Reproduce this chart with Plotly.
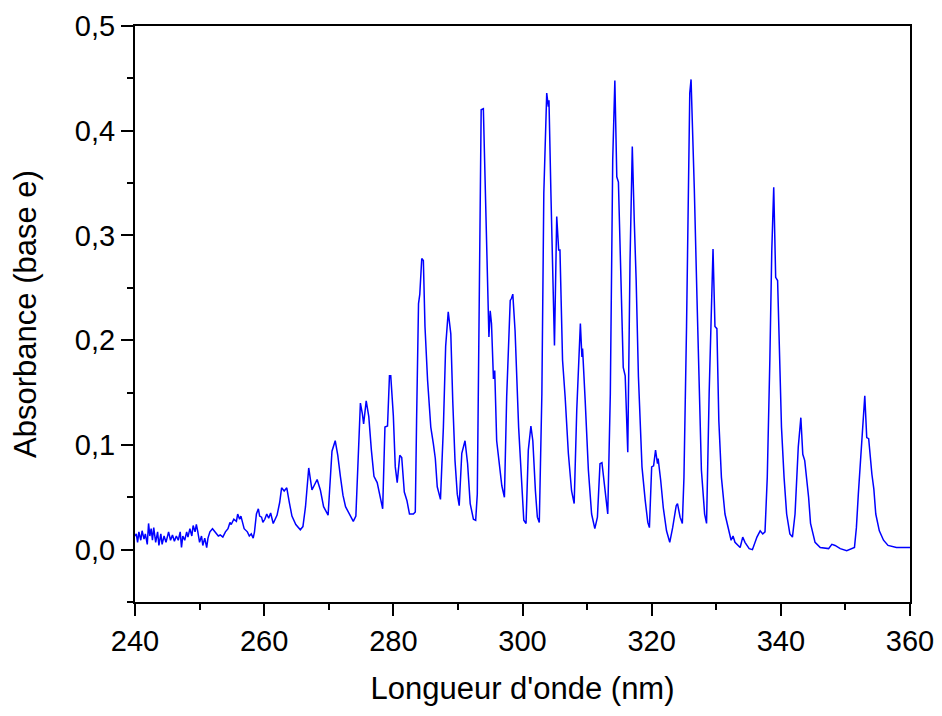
import plotly.graph_objects as go

wavelength_nm = [
    240.0, 240.2, 240.4, 240.6, 240.9, 241.1, 241.4, 241.6, 241.9, 242.1, 242.3, 242.5, 242.7, 242.9,
    243.2, 243.5, 243.7, 244.0, 244.2, 244.5, 244.8, 245.2, 245.5, 245.8, 246.1, 246.4, 246.7, 247.0,
    247.2, 247.4, 247.7, 248.0, 248.2, 248.5, 248.8, 249.0, 249.3, 249.5, 249.7, 250.0, 250.3, 250.5,
    250.8, 251.1, 251.3, 251.6, 252.0, 252.3, 252.6, 252.9, 253.2, 253.6, 254.0, 254.4, 254.7, 254.9,
    255.3, 255.7, 255.9, 256.2, 256.4, 256.7, 256.9, 257.4, 257.7, 258.0, 258.3, 258.5, 258.8, 259.1,
    259.3, 259.6, 259.8, 260.1, 260.4, 260.7, 261.0, 261.4, 261.7, 262.0, 262.4, 262.7, 263.1, 263.5,
    263.9, 264.3, 264.9, 265.6, 266.0, 266.4, 266.9, 267.4, 267.8, 268.2, 268.7, 269.2, 269.9, 270.2,
    270.5, 271.0, 271.4, 271.8, 272.2, 272.6, 273.3, 273.8, 274.2, 274.6, 274.9, 275.2, 275.4, 275.8,
    276.2, 276.6, 277.0, 277.5, 277.9, 278.35, 278.7, 279.1, 279.4, 279.6, 280.0, 280.3, 280.6, 281.0,
    281.3, 281.7, 282.1, 282.5, 283.1, 283.4, 283.6, 283.9, 284.1, 284.4, 284.65, 284.9, 285.3, 285.7,
    285.8, 286.2, 286.5, 286.8, 287.3, 287.75, 288.1, 288.5, 288.8, 288.9, 289.2, 289.55, 289.9, 290.2,
    290.6, 291.1, 291.5, 291.9, 292.4, 292.75, 293.0, 293.3, 293.6, 293.94, 294.35, 294.6, 294.8, 295.0,
    295.2, 295.5, 295.7, 296.0, 296.4, 296.8, 297.2, 297.55, 298.1, 298.3, 298.5, 298.85, 299.4, 299.9,
    300.2, 300.55, 300.9, 301.3, 301.6, 302.0, 302.3, 302.6, 303.0, 303.3, 303.75, 304.0, 304.1, 304.4,
    304.7, 304.95, 305.3, 305.6, 305.8, 306.2, 306.6, 307.1, 307.6, 308.0, 308.4, 308.65, 308.96, 309.2,
    309.3, 309.7, 310.2, 310.7, 311.2, 311.6, 312.0, 312.3, 312.8, 313.2, 313.6, 313.97, 314.3, 314.6,
    314.85, 315.2, 315.6, 315.9, 316.3, 316.65, 317.0, 317.3, 317.6, 317.95, 318.5, 319.0, 319.4, 319.65,
    320.0, 320.3, 320.6, 320.9, 321.0, 321.4, 321.8, 322.3, 322.8, 323.25, 323.8, 324.0, 324.4, 324.75,
    325.0, 325.4, 325.7, 325.9, 326.1, 326.35, 326.6, 327.0, 327.4, 327.7, 328.2, 328.5, 328.9, 329.2,
    329.5, 329.8, 330.1, 330.4, 330.8, 331.35, 331.9, 332.3, 332.6, 332.9, 333.7, 334.1, 334.45, 335.1,
    335.6, 336.3, 336.8, 337.2, 337.55, 337.9, 338.3, 338.6, 338.9, 339.2, 339.5, 339.9, 340.1, 340.5,
    340.9, 341.4, 341.8, 342.2, 342.7, 343.1, 343.4, 343.7, 344.3, 344.6, 345.3, 346.1, 347.4, 347.9,
    348.4, 349.2, 350.2, 351.4, 351.7, 352.0, 352.4, 352.7, 353.0, 353.3, 353.6, 354.1, 354.4, 354.7,
    355.25, 355.9, 356.6, 357.9, 360.0,
]

absorbance = [
    0.013, 0.015, 0.007, 0.017, 0.009, 0.018, 0.010, 0.015, 0.005, 0.025, 0.013, 0.020, 0.009, 0.021,
    0.007, 0.017, 0.004, 0.015, 0.005, 0.013, 0.007, 0.017, 0.009, 0.014, 0.008, 0.013, 0.009, 0.017,
    0.002, 0.013, 0.009, 0.017, 0.012, 0.020, 0.013, 0.023, 0.017, 0.024, 0.018, 0.007, 0.013, 0.004,
    0.011, 0.002, 0.011, 0.017, 0.020, 0.018, 0.015, 0.013, 0.014, 0.012, 0.017, 0.020, 0.026, 0.024,
    0.029, 0.027, 0.034, 0.029, 0.032, 0.025, 0.020, 0.017, 0.013, 0.015, 0.011, 0.017, 0.034, 0.039,
    0.032, 0.031, 0.026, 0.029, 0.034, 0.030, 0.035, 0.025, 0.030, 0.033, 0.045, 0.059, 0.056, 0.059,
    0.045, 0.032, 0.024, 0.019, 0.022, 0.041, 0.078, 0.057, 0.062, 0.067, 0.057, 0.041, 0.033, 0.060,
    0.094, 0.104, 0.090, 0.070, 0.052, 0.041, 0.033, 0.027, 0.032, 0.100, 0.140, 0.130, 0.120, 0.142,
    0.127, 0.095, 0.070, 0.064, 0.053, 0.039, 0.117, 0.118, 0.166, 0.166, 0.128, 0.079, 0.064, 0.090,
    0.088, 0.055, 0.047, 0.034, 0.034, 0.036, 0.123, 0.235, 0.244, 0.278, 0.276, 0.213, 0.162, 0.122,
    0.117, 0.101, 0.087, 0.060, 0.048, 0.117, 0.194, 0.227, 0.206, 0.206, 0.142, 0.085, 0.053, 0.042,
    0.092, 0.104, 0.082, 0.044, 0.029, 0.028, 0.053, 0.276, 0.420, 0.421, 0.308, 0.260, 0.203, 0.228,
    0.216, 0.163, 0.171, 0.104, 0.079, 0.061, 0.050, 0.146, 0.238, 0.240, 0.244, 0.209, 0.117, 0.063,
    0.028, 0.025, 0.095, 0.118, 0.104, 0.056, 0.031, 0.026, 0.149, 0.340, 0.436, 0.423, 0.429, 0.340,
    0.244, 0.195, 0.318, 0.286, 0.286, 0.181, 0.146, 0.092, 0.056, 0.044, 0.133, 0.174, 0.216, 0.184,
    0.192, 0.143, 0.076, 0.034, 0.020, 0.031, 0.082, 0.083, 0.053, 0.034, 0.149, 0.372, 0.448, 0.356,
    0.351, 0.267, 0.174, 0.166, 0.093, 0.276, 0.385, 0.315, 0.257, 0.165, 0.079, 0.047, 0.026, 0.021,
    0.079, 0.080, 0.095, 0.082, 0.087, 0.066, 0.040, 0.018, 0.007, 0.021, 0.042, 0.044, 0.031, 0.025,
    0.069, 0.213, 0.362, 0.436, 0.449, 0.404, 0.345, 0.244, 0.136, 0.076, 0.034, 0.025, 0.149, 0.232,
    0.287, 0.213, 0.211, 0.123, 0.069, 0.034, 0.018, 0.009, 0.013, 0.007, 0.002, 0.012, 0.007, 0.001,
    0.000, 0.012, 0.018, 0.015, 0.017, 0.069, 0.181, 0.286, 0.346, 0.260, 0.257, 0.171, 0.117, 0.069,
    0.034, 0.015, 0.012, 0.034, 0.098, 0.126, 0.091, 0.085, 0.050, 0.025, 0.007, 0.002, 0.001, 0.005,
    0.004, 0.001, -0.001, 0.002, 0.021, 0.053, 0.088, 0.117, 0.147, 0.107, 0.106, 0.072, 0.058, 0.034,
    0.018, 0.009, 0.004, 0.002, 0.002,
]

x_tick_vals = [240, 260, 280, 300, 320, 340, 360]
x_tick_text = ["240", "260", "280", "300", "320", "340", "360"]
y_tick_vals = [0.0, 0.1, 0.2, 0.3, 0.4, 0.5]
y_tick_text = ["0,0", "0,1", "0,2", "0,3", "0,4", "0,5"]

x_title = "Longueur d'onde (nm)"
y_title = "Absorbance (base e)"

font_family = "Liberation Sans, Arial, sans-serif"

fig = go.Figure()
fig.add_trace(go.Scatter(
    x=wavelength_nm, y=absorbance, mode="lines",
    line=dict(color="#0000FF", width=1.5),
    showlegend=False, hoverinfo="x+y",
))

axis_common = dict(
    showgrid=False, zeroline=False, showline=True, linecolor="black", linewidth=2,
    mirror=True, ticks="outside", ticklen=12, tickwidth=2, tickcolor="black",
    tickfont=dict(family=font_family, size=29, color="black"),
)

fig.update_layout(
    width=934, height=708,
    margin=dict(l=127, r=32, t=18, b=114),
    paper_bgcolor="white", plot_bgcolor="white",
    font=dict(family=font_family, color="black"),
    xaxis=dict(
        range=[240, 360], tickvals=x_tick_vals, ticktext=x_tick_text,
        minor=dict(dtick=10, ticks="outside", ticklen=6, tickwidth=2, tickcolor="black"),
        title=dict(text=x_title, font=dict(family=font_family, size=31, color="black"), standoff=22),
        automargin=False,
        **axis_common,
    ),
    yaxis=dict(
        range=[-0.05, 0.5], tickvals=y_tick_vals, ticktext=y_tick_text,
        minor=dict(dtick=0.05, ticks="outside", ticklen=6, tickwidth=2, tickcolor="black"),
        title=dict(text=y_title, font=dict(family=font_family, size=31, color="black"), standoff=30),
        automargin=False,
        **axis_common,
    ),
)

fig.write_html("out.html")
